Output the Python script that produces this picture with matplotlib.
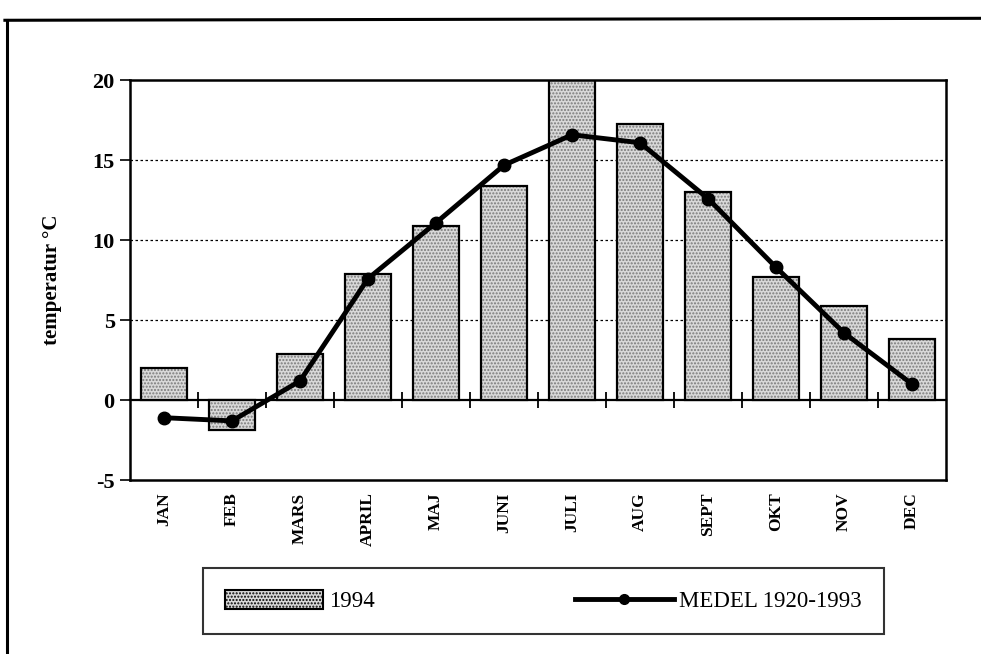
import matplotlib
matplotlib.use("Agg")
import matplotlib.pyplot as plt
import numpy as np
from matplotlib.patches import Patch
from matplotlib.lines import Line2D

months = ["JAN", "FEB", "MARS", "APRIL", "MAJ", "JUNI", "JULI", "AUG", "SEPT", "OKT", "NOV", "DEC"]
temp_1994 = [2.0, -1.9, 2.9, 7.9, 10.9, 13.4, 20.4, 17.3, 13.0, 7.7, 5.9, 3.8]
medel_1920_1993 = [-1.1, -1.3, 1.2, 7.6, 11.1, 14.7, 16.6, 16.1, 12.6, 8.3, 4.2, 1.0]
yticks = [-5, 0, 5, 10, 15, 20]

plt.rcParams['font.family'] = ['Liberation Serif', 'DejaVu Serif']

fig = plt.figure(figsize=(9.81, 6.54), dpi=100)
ax = fig.add_axes([0.1325, 0.266, 0.832, 0.611])

x = np.arange(len(months))
ymin, ymax = -5, 20
bar_face = '#d9d9d9'

# bars: hatched fill then black outline
ax.bar(x, temp_1994, width=0.68, color=bar_face, edgecolor='#7a7a7a',
       hatch='.....', linewidth=0, zorder=2)
ax.bar(x, temp_1994, width=0.68, facecolor='none', edgecolor='black',
       linewidth=1.6, zorder=3)

ax.plot(x, medel_1920_1993, color='black', linewidth=3.5, marker='o',
        markersize=9, zorder=4, solid_capstyle='round')

ax.set_xlim(-0.5, len(months) - 0.5)
ax.set_ylim(ymin, ymax)
ax.set_yticks(yticks)
ax.set_yticklabels([str(v) for v in yticks], fontsize=16, fontweight='bold')
ax.tick_params(axis='y', direction='out', length=7, width=1.2, pad=4)

ax.set_xticks(x)
ax.set_xticklabels(months, rotation=90, fontsize=12.5, fontweight='bold')
ax.tick_params(axis='x', length=0, pad=9)

for v in [5, 10, 15]:
    ax.axhline(v, color='black', linewidth=0.9, linestyle=(0, (2, 2)), zorder=1)

for s in ax.spines.values():
    s.set_linewidth(1.8)

# zero axis with category-boundary ticks
sec = ax.secondary_xaxis((0 - ymin) / (ymax - ymin))
sec.set_xticks(np.arange(len(months) - 1) + 0.5)
sec.set_xticklabels([])
sec.tick_params(direction='inout', length=11, width=1.3)
sec.spines['bottom'].set_linewidth(1.6)
sec.spines['bottom'].set_zorder(5)

ax.set_ylabel('temperatur °C', fontsize=15, fontweight='bold', labelpad=22)

handles = [Patch(facecolor=bar_face, edgecolor='black', linewidth=1.5, hatch='.....',
                 label='1994'),
           Line2D([0], [0], color='black', linewidth=3.5, marker='o', markersize=7,
                  label='MEDEL 1920-1993')]
leg = fig.legend(handles=handles, ncol=2, loc='center',
                 bbox_to_anchor=(0.207, 0.029, 0.694, 0.104), mode='expand',
                 fontsize=16.5, frameon=True, fancybox=False, edgecolor='black',
                 handlelength=4.3, handleheight=0.9, handletextpad=0.25,
                 borderpad=0.95, borderaxespad=0.0)
leg.get_frame().set_linewidth(1.5)

# outer frame of the scanned page
fig.add_artist(Line2D([0.005, 1.0], [0.969, 0.972], color='black', linewidth=2.2,
                      transform=fig.transFigure))
fig.add_artist(Line2D([0.007, 0.007], [0.969, 0.0], color='black', linewidth=2.2,
                      transform=fig.transFigure))

fig.savefig('out.png', dpi=100)
